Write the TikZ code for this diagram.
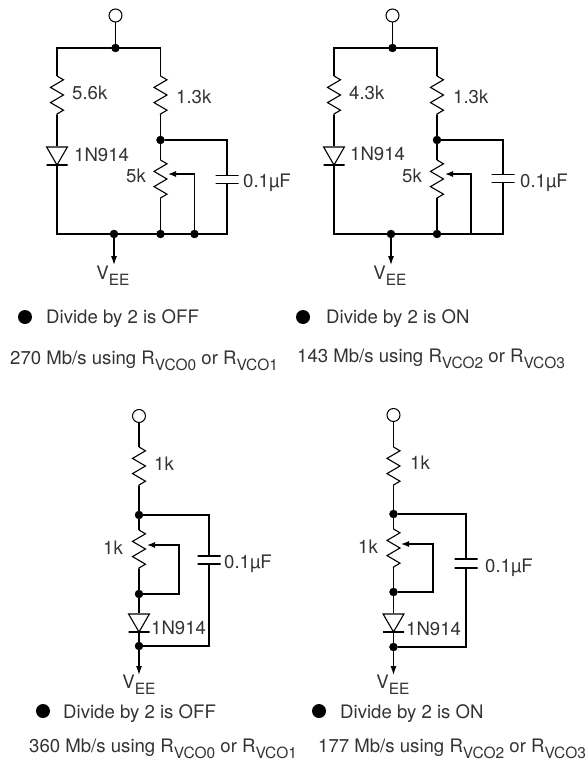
\documentclass[tikz,border=0pt]{standalone}
\usepackage{fontspec}
\setmainfont{TeX Gyre Heros}
\usetikzlibrary{arrows.meta,decorations.pathmorphing,shapes.geometric}
\newcommand{\lowsub}[1]{\raisebox{-6pt}{\fontsize{15.5}{16}\selectfont #1}}
\tikzset{
    wire/.style={line width=1.1pt, line join=miter},
    res/.style={wire, decorate, decoration={zigzag, segment length=15.2pt, amplitude=6.5pt}},
    junction/.style={draw, circle, fill=black, minimum size=8pt, inner sep=0pt},
    terminal/.style={draw, circle, fill=white, line width=1pt, minimum size=13pt, inner sep=0pt},
    diodehead/.style={draw, regular polygon, regular polygon sides=3, shape border rotate=180, line width=1.1pt, minimum size=24pt, inner sep=0pt},
    plate/.style={draw, rectangle, line width=1.7pt, minimum width=#1, minimum height=0pt, inner sep=0pt, outer sep=0pt},
    lbl/.style={inner sep=0pt, anchor=base west, text=black!80, font=\fontsize{18.6}{20}\selectfont},
    lblr/.style={lbl, anchor=base east},
    lblc/.style={lbl, anchor=base},
    bullet/.style={circle, fill=black, minimum size=14pt, inner sep=0pt},
    ground/.style={wire, -{Latex[length=9pt,width=6pt]}},
    wiper/.style={wire, -{Latex[length=8pt,width=6pt]}}
}
\begin{document}
\begin{tikzpicture}[x=1pt, y=-1pt]
    \useasboundingbox (0,0) rectangle (587,765);

    % Top left circuit
    \node[terminal] (in1) at (115.5,15.5) {};
    \node[junction] (top1) at (115.5,48) {};
    \coordinate (tl1) at (57,48);
    \coordinate (tr1) at (160.5,48);
    \coordinate (ra1) at (57,76);
    \coordinate (rb1) at (57,115);
    \node[diodehead] (dio1) at (57,153) {};
    \node[plate=21pt] (bar1) at (57,165) {};
    \coordinate (bl1) at (57,234);
    \coordinate (rc1) at (160.5,76);
    \coordinate (rd1) at (160.5,115);
    \node[junction] (mid1) at (160.5,140) {};
    \coordinate (re1) at (160.5,160);
    \coordinate (rf1) at (160.5,198);
    \coordinate (tap1) at (168,174);
    \coordinate (wa1) at (194.5,174);
    \node[junction] (wb1) at (194.5,234) {};
    \node[junction] (bot1) at (160.5,234) {};
    \node[junction] (out1) at (114,234) {};
    \coordinate (ct1) at (227,140);
    \node[plate=23pt] (ca1) at (227,175.5) {};
    \node[plate=23pt] (cb1) at (227,183.5) {};
    \coordinate (br1) at (227,234);
    \node[lblc] (vee1) at (113,279) {V\lowsub{EE}};
    \coordinate (ve1) at (114,265);
    \draw[wire] (in1) -- (top1);
    \draw[wire] (ra1) -- (tl1) -- (tr1) -- (rc1);
    \draw[res] (ra1) -- (rb1);
    \draw[wire] (rb1) -- (dio1);
    \draw[wire] (bar1) -- (bl1) -- (br1) -- (cb1);
    \draw[res] (rc1) -- (rd1);
    \draw[wire] (rd1) -- (mid1) -- (re1);
    \draw[res] (re1) -- (rf1);
    \draw[wire] (rf1) -- (bot1);
    \draw[wiper] (wb1) -- (wa1) -- (tap1);
    \draw[wire] (mid1) -- (ct1) -- (ca1);
    \draw[ground] (out1) -- (ve1);
    \node[lbl] (r1a) at (72,100) {5.6k};
    \node[lbl] (r1b) at (176,103) {1.3k};
    \node[lbl] (d1a) at (74,161) {1N914};
    \node[lblr] (p1a) at (146,182) {5k};
    \node[lbl] (c1a) at (243,187) {0.1µF};
    \node[bullet] (b1) at (25,317) {};
    \node[lbl] (t1a) at (46,323) {Divide by 2 is OFF};
    \node[lbl] (t1b) at (10,364) {270 Mb/s using R\lowsub{VCO0} or R\lowsub{VCO1}};

    % Top right circuit
    \node[terminal] (in2) at (392.5,15.5) {};
    \node[junction] (top2) at (392.5,48) {};
    \coordinate (tl2) at (334,48);
    \coordinate (tr2) at (437,48);
    \coordinate (ra2) at (334,76);
    \coordinate (rb2) at (334,115);
    \node[diodehead] (dio2) at (334,153) {};
    \node[plate=21pt] (bar2) at (334,165) {};
    \coordinate (bl2) at (334,234);
    \coordinate (rc2) at (437,76);
    \coordinate (rd2) at (437,115);
    \node[junction] (mid2) at (437,140) {};
    \coordinate (re2) at (437,160);
    \coordinate (rf2) at (437,198);
    \coordinate (tap2) at (445,174);
    \coordinate (wa2) at (471,174);
    \coordinate (wb2) at (471,234);
    \node[junction] (bot2) at (437,234) {};
    \node[junction] (out2) at (391,234) {};
    \coordinate (ct2) at (503,140);
    \node[plate=23pt] (ca2) at (503,174.5) {};
    \node[plate=23pt] (cb2) at (503,182.5) {};
    \coordinate (br2) at (503,234);
    \node[lblc] (vee2) at (390,279) {V\lowsub{EE}};
    \coordinate (ve2) at (391,265);
    \draw[wire] (in2) -- (top2);
    \draw[wire] (ra2) -- (tl2) -- (tr2) -- (rc2);
    \draw[res] (ra2) -- (rb2);
    \draw[wire] (rb2) -- (dio2);
    \draw[wire] (bar2) -- (bl2) -- (br2) -- (cb2);
    \draw[res] (rc2) -- (rd2);
    \draw[wire] (rd2) -- (mid2) -- (re2);
    \draw[res] (re2) -- (rf2);
    \draw[wire] (rf2) -- (bot2);
    \draw[wiper] (wb2) -- (wa2) -- (tap2);
    \draw[wire] (mid2) -- (ct2) -- (ca2);
    \draw[ground] (out2) -- (ve2);
    \node[lbl] (r2a) at (349,100) {4.3k};
    \node[lbl] (r2b) at (453,103) {1.3k};
    \node[lbl] (d2a) at (350,160) {1N914};
    \node[lblr] (p2a) at (422,182) {5k};
    \node[lbl] (c2a) at (520,187) {0.1µF};
    \node[bullet] (b2) at (303,317) {};
    \node[lbl] (t2a) at (326,323) {Divide by 2 is ON};
    \node[lbl] (t2b) at (297,362) {143 Mb/s using R\lowsub{VCO2} or R\lowsub{VCO3}};

    % Bottom left circuit
    \node[terminal] (in3) at (139,416) {};
    \coordinate (ra3) at (139,447);
    \coordinate (rb3) at (139,486);
    \node[junction] (mid3) at (139,515) {};
    \coordinate (re3) at (139,530);
    \coordinate (rf3) at (139,569);
    \coordinate (tap3) at (147,545);
    \coordinate (wa3) at (179,545);
    \coordinate (wb3) at (179,594);
    \node[junction] (bot3) at (139,594) {};
    \node[diodehead] (dio3) at (139,620) {};
    \node[plate=21pt] (bar3) at (139,632) {};
    \node[junction] (out3) at (139,646) {};
    \coordinate (ct3) at (209,515);
    \node[plate=23pt] (ca3) at (209,556) {};
    \node[plate=23pt] (cb3) at (209,564) {};
    \coordinate (br3) at (209,646);
    \node[lblc] (vee3) at (139,688) {V\lowsub{EE}};
    \coordinate (ve3) at (139,675);
    \draw[wire] (in3) -- (ra3);
    \draw[res] (ra3) -- (rb3);
    \draw[wire] (rb3) -- (mid3) -- (re3);
    \draw[res] (re3) -- (rf3);
    \draw[wire] (rf3) -- (bot3) -- (dio3);
    \draw[wiper] (bot3) -- (wb3) -- (wa3) -- (tap3);
    \draw[wire] (bar3) -- (out3);
    \draw[wire] (mid3) -- (ct3) -- (ca3);
    \draw[wire] (cb3) -- (br3) -- (out3);
    \draw[ground] (out3) -- (ve3);
    \node[lbl] (r3a) at (154,470) {1k};
    \node[lblr] (p3a) at (123,554) {1k};
    \node[lbl] (d3a) at (151,634) {1N914};
    \node[lbl] (c3a) at (224,568) {0.1µF};
    \node[bullet] (b3) at (43,711) {};
    \node[lbl] (t3a) at (63,718) {Divide by 2 is OFF};
    \node[lbl] (t3b) at (29,752) {360 Mb/s using R\lowsub{VCO0} or R\lowsub{VCO1}};

    % Bottom right circuit
    \node[terminal] (in4) at (393.5,415) {};
    \coordinate (ra4) at (393.5,447);
    \coordinate (rb4) at (393.5,485);
    \node[junction] (mid4) at (393.5,514) {};
    \coordinate (re4) at (393.5,529);
    \coordinate (rf4) at (393.5,568);
    \coordinate (tap4) at (401,544);
    \coordinate (wa4) at (433,544);
    \coordinate (wb4) at (433,592);
    \node[junction] (bot4) at (393.5,592) {};
    \node[diodehead] (dio4) at (393.5,620) {};
    \node[plate=21pt] (bar4) at (393.5,632) {};
    \node[junction] (out4) at (393.5,647) {};
    \coordinate (ct4) at (466,514);
    \node[plate=23pt] (ca4) at (466,559) {};
    \node[plate=23pt] (cb4) at (466,568) {};
    \coordinate (br4) at (466,647);
    \node[lblc] (vee4) at (393,688) {V\lowsub{EE}};
    \coordinate (ve4) at (393.5,675);
    \draw[wire] (in4) -- (ra4);
    \draw[res] (ra4) -- (rb4);
    \draw[wire] (rb4) -- (mid4) -- (re4);
    \draw[res] (re4) -- (rf4);
    \draw[wire] (rf4) -- (bot4) -- (dio4);
    \draw[wiper] (bot4) -- (wb4) -- (wa4) -- (tap4);
    \draw[wire] (bar4) -- (out4);
    \draw[wire] (mid4) -- (ct4) -- (ca4);
    \draw[wire] (cb4) -- (br4) -- (out4);
    \draw[ground] (out4) -- (ve4);
    \node[lbl] (r4a) at (410,469) {1k};
    \node[lblr] (p4a) at (378,553) {1k};
    \node[lbl] (d4a) at (406,635) {1N914};
    \node[lbl] (c4a) at (485,572) {0.1µF};
    \node[bullet] (b4) at (319,711) {};
    \node[lbl] (t4a) at (340,718) {Divide by 2 is ON};
    \node[lbl] (t4b) at (318,752) {177 Mb/s using R\lowsub{VCO2} or R\lowsub{VCO3}};
\end{tikzpicture}
\end{document}
